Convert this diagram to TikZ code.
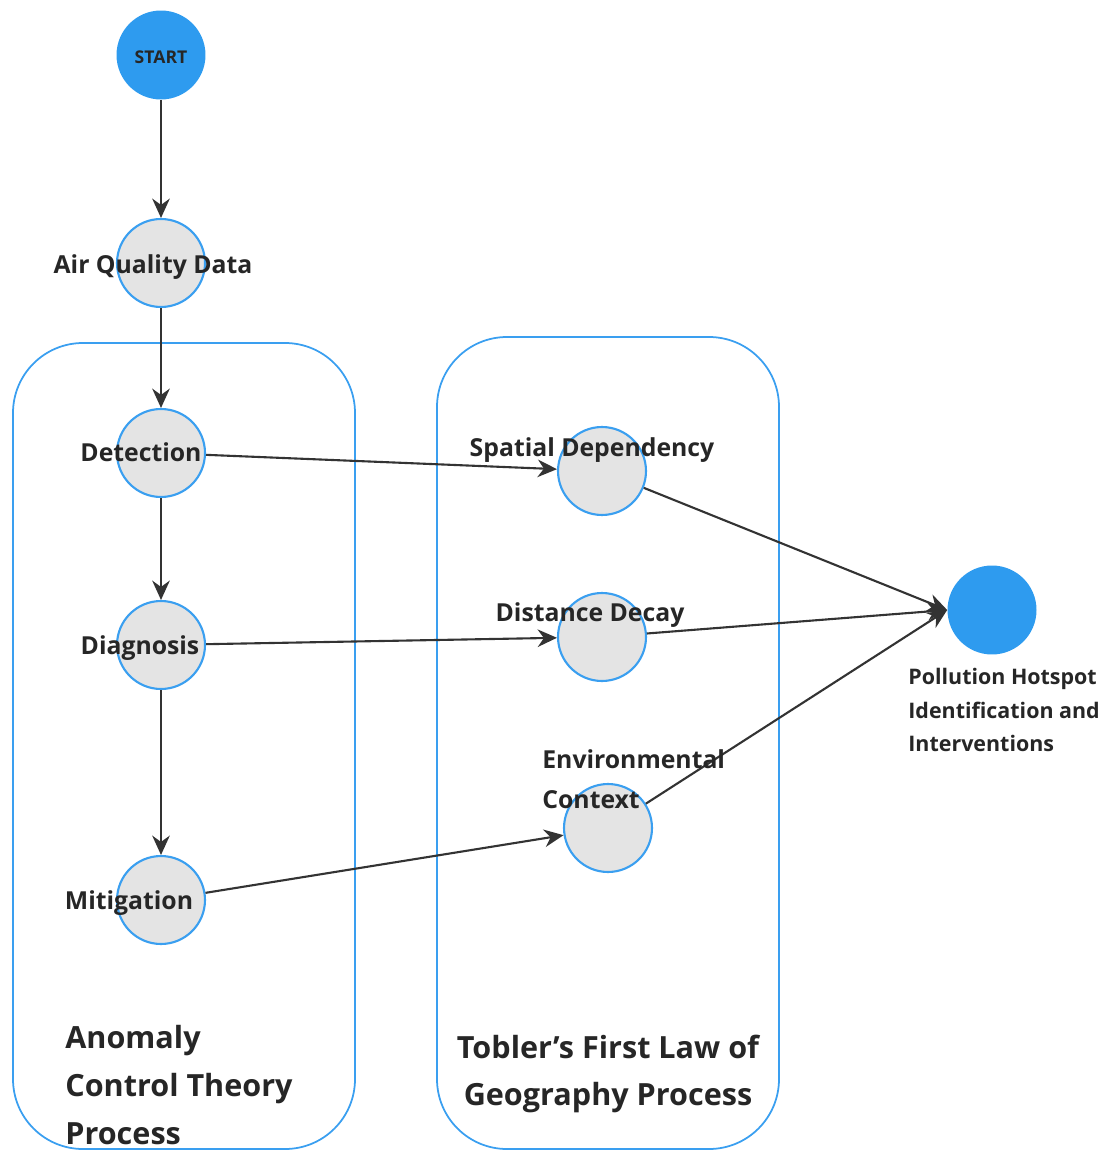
\documentclass[tikz,border=0pt]{standalone}
\usepackage{fontspec}
\setmainfont{Open Sans}
\usetikzlibrary{arrows.meta}
\definecolor{hotblue}{HTML}{2E9BEF}
\definecolor{ringblue}{HTML}{3A9FF0}
\definecolor{stagegray}{HTML}{E4E4E4}
\definecolor{inkgray}{HTML}{333333}
\tikzset{
  stage/.style={circle,draw=ringblue,line width=1.2pt,fill=stagegray,minimum size=1.76cm,inner sep=0pt},
  endpoint/.style={circle,fill=hotblue,minimum size=1.78cm,inner sep=0pt},
  lbl/.style={text=black!85,font=\bfseries\fontsize{14.1}{22.7}\selectfont,inner sep=0pt},
  flow/.style={draw=inkgray,line width=1.2pt,-{Stealth[length=11pt,width=10pt]}},
  procbox/.style={draw=ringblue,line width=1pt,rounded corners=1.4cm}
}
\begin{document}
\begin{tikzpicture}[x=0.02cm,y=-0.02cm]
      \useasboundingbox (0,0) rectangle (1114,1151);
      % process containers
      \draw[procbox] (13,343) rectangle (355,1149);
      \draw[procbox] (437,337) rectangle (779,1149);
      \draw
        (161,55) node[endpoint] (start){}
        (161,263) node[stage] (aqd){}
        (161,453) node[stage] (det){}
        (161,645) node[stage] (diag){}
        (161,900) node[stage] (mit){}
        (602,471) node[stage] (sd){}
        (602,637) node[stage] (dd){}
        (608,828) node[stage] (ec){}
        (992,610) node[endpoint] (ph){};
      \begin{scope}[flow]
        \draw (start) to (aqd);
        \draw (aqd) to (det);
        \draw (det) to (diag);
        \draw (diag) to (mit);
        \draw (det) to (sd);
        \draw (diag) to (dd);
        \draw (mit) to (ec);
        \draw (sd) to (ph.west);
        \draw (dd) to (ph.west);
        \draw (ec) to (ph.west);
      \end{scope}
      % labels
      \node[lbl,font=\bfseries\fontsize{10}{12}\selectfont] (startlbl) at (161,57) {START};
      \node[lbl] (aqdlbl) at (153,267) {Air Quality Data};
      \node[lbl] (detlbl) at (141,452) {Detection};
      \node[lbl] (diaglbl) at (140,648) {Diagnosis};
      \node[lbl] (mitlbl) at (129,903) {Mitigation};
      \node[lbl] (sdlbl) at (592,450) {Spatial Dependency};
      \node[lbl] (ddlbl) at (590,615) {Distance Decay};
      \node[lbl,anchor=west,align=left] (eclbl) at (542,779) {Environmental\\Context};
      \node[lbl,anchor=west,align=left,font=\bfseries\fontsize{12.2}{19}\selectfont] (phlbl) at (908,710)
        {Pollution Hotspot\\Identification and\\Interventions};
      \node[lbl,anchor=west,align=left,font=\bfseries\fontsize{17.4}{27.2}\selectfont] (actlbl) at (65,1085)
        {Anomaly\\Control Theory\\Process};
      \node[lbl,align=center,font=\bfseries\fontsize{17.4}{27.2}\selectfont] (toblbl) at (608,1074)
        {Tobler’s First Law of\\Geography Process};
    \end{tikzpicture}
\end{document}
